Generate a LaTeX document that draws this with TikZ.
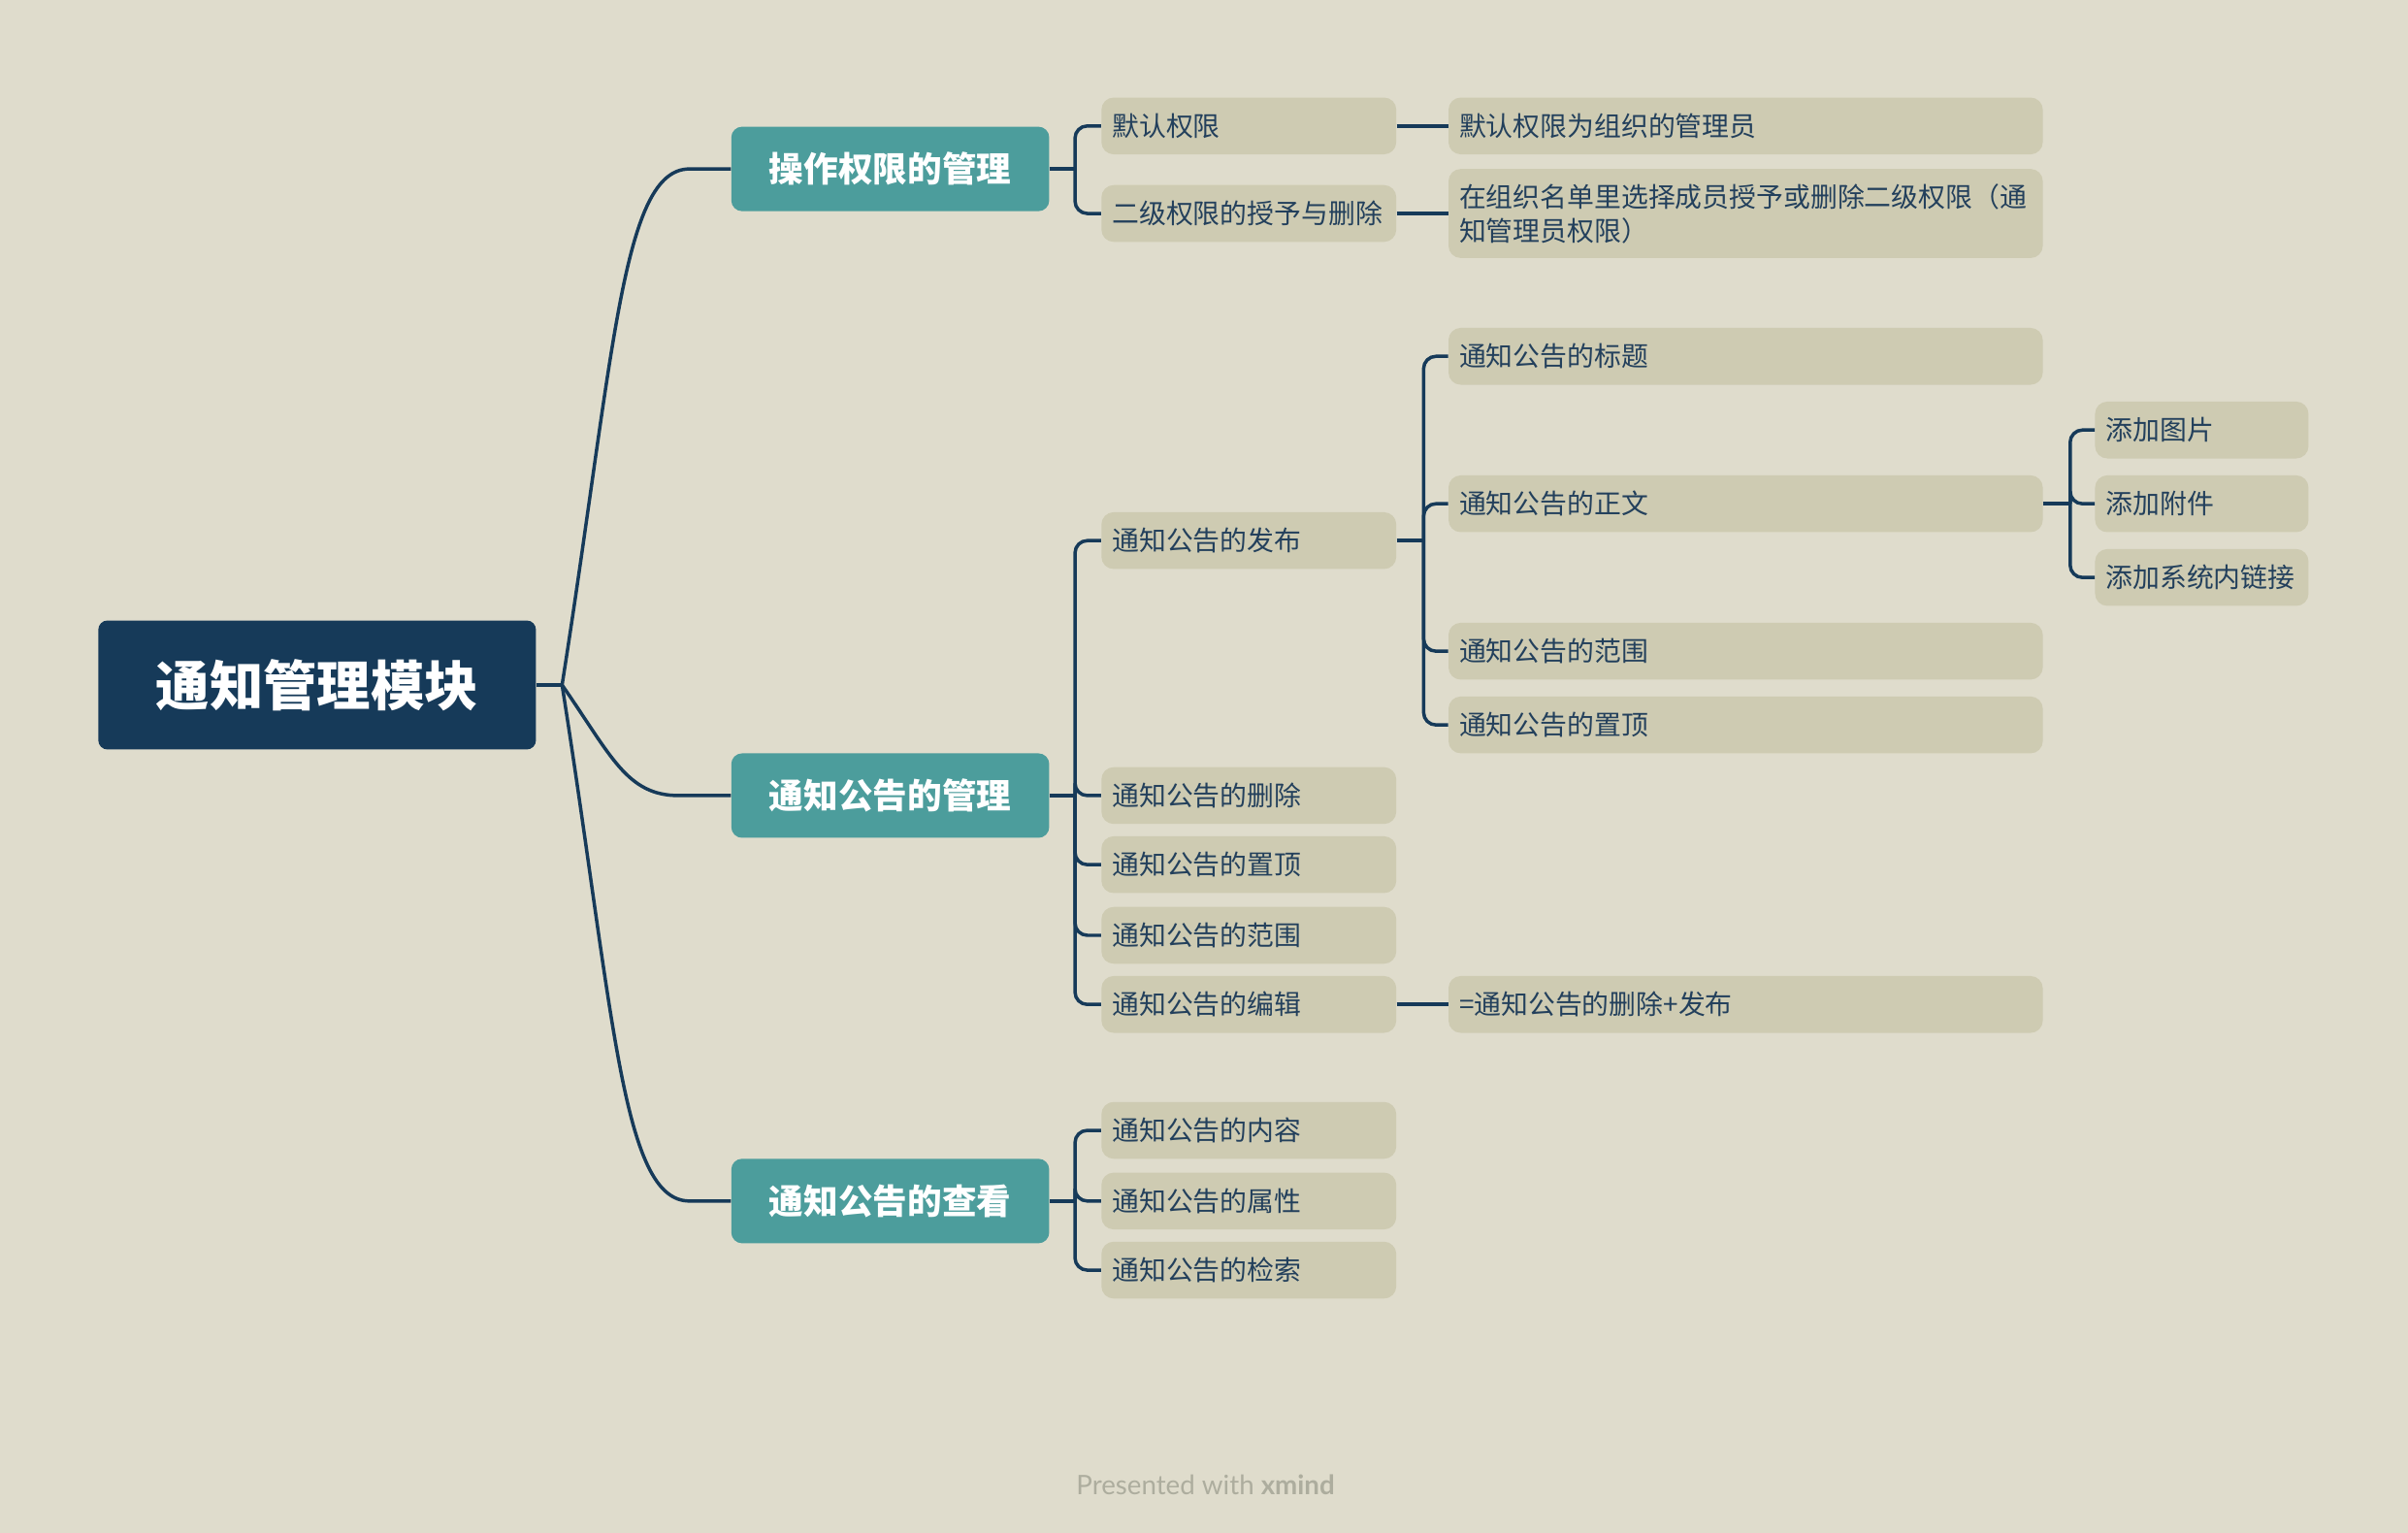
\documentclass[tikz,border=0pt]{standalone}
\usepackage{fontspec}
\setmainfont{Noto Sans CJK SC}
\newfontfamily\footfont{Lato}
\definecolor{bgc}{HTML}{DFDCCC}
\definecolor{boxc}{HTML}{CECBB2}
\definecolor{tealc}{HTML}{4C9D9C}
\definecolor{rootc}{HTML}{163A59}
\definecolor{linec}{HTML}{163A59}
\definecolor{textc}{HTML}{23405C}
\definecolor{footc}{HTML}{ADAD9E}
\begin{document}
\begin{tikzpicture}[x=1pt,y=-1pt,
  conn/.style={draw=linec, line width=2.2pt},
  bracket/.style={conn, rounded corners=8pt},
  rootbox/.style={rectangle, rounded corners=6pt, fill=rootc, text=white,
    font=\fontsize{35}{40}\selectfont\bfseries, minimum width=285pt, minimum height=84pt, inner sep=0pt},
  topic/.style={rectangle, rounded corners=7pt, fill=tealc, text=white,
    font=\fontsize{22.5}{26}\selectfont\bfseries, minimum width=207pt, minimum height=55pt, inner sep=0pt, anchor=west},
  sub/.style={rectangle, rounded corners=8pt, fill=boxc, text=textc,
    font=\fontsize{17.6}{22}\selectfont, minimum height=37pt, inner xsep=7pt, inner ysep=0pt, anchor=west, align=left},
  w2/.style={sub, text width=178pt},
  w3/.style={sub, text width=373pt},
  w4/.style={sub, text width=125pt},
]
\fill[bgc] (0,0) rectangle (1568,998);
\useasboundingbox (0,0) rectangle (1568,998);

% root
\node[rootbox] (root) at (206.5,446) {通知管理模块};

% level 1
\node[topic] (t1) at (476,110) {操作权限的管理};
\node[topic] (t2) at (476,518) {通知公告的管理};
\node[topic] (t3) at (476,782) {通知公告的查看};

% level 2
\node[w2] (a1) at (717,82) {默认权限};
\node[w2] (a2) at (717,139) {二级权限的授予与删除};
\node[w2] (b1) at (717,352) {通知公告的发布};
\node[w2] (b2) at (717,518) {通知公告的删除};
\node[w2] (b3) at (717,563) {通知公告的置顶};
\node[w2] (b4) at (717,609) {通知公告的范围};
\node[w2] (b5) at (717,654) {通知公告的编辑};
\node[w2] (c1) at (717,736) {通知公告的内容};
\node[w2] (c2) at (717,782) {通知公告的属性};
\node[w2] (c3) at (717,827) {通知公告的检索};

% level 3
\node[w3] (a11) at (943,82) {默认权限为组织的管理员};
\node[w3, minimum height=58pt] (a21) at (943,139) {在组织名单里选择成员授予或删除二级权限（通\\知管理员权限）};
\node[w3] (b11) at (943,232) {通知公告的标题};
\node[w3] (b12) at (943,328) {通知公告的正文};
\node[w3] (b13) at (943,424) {通知公告的范围};
\node[w3] (b14) at (943,472) {通知公告的置顶};
\node[w3] (b51) at (943,654) {=通知公告的删除+发布};

% level 4
\node[w4] (d1) at (1364,280) {添加图片};
\node[w4] (d2) at (1364,328) {添加附件};
\node[w4] (d3) at (1364,376) {添加系统内链接};

% root connectors
\coordinate (rj) at (366,446);
\draw[conn] (root.east) -- (rj);
\draw[conn] (rj) .. controls (400,230) and (405,110) .. (449,110) -- (t1.west);
\draw[conn] (rj) .. controls (398,492) and (408,518) .. (442,518) -- (t2.west);
\draw[conn] (rj) .. controls (400,662) and (405,782) .. (449,782) -- (t3.west);

% t1 bracket
\coordinate (j1) at (700,110);
\draw[conn] (t1.east) -- (j1);
\draw[bracket] (j1) |- (a1.west);
\draw[bracket] (j1) |- (a2.west);

% t2 bracket
\coordinate (j2) at (700,518);
\draw[conn] (t2.east) -- (j2);
\foreach \n in {b1,b2,b3,b4,b5} { \draw[bracket] (j2) |- (\n.west); }

% t3 bracket
\coordinate (j3) at (700,782);
\draw[conn] (t3.east) -- (j3);
\foreach \n in {c1,c2,c3} { \draw[bracket] (j3) |- (\n.west); }

% level 2 -> 3
\draw[conn] (a1.east) -- (a11.west);
\draw[conn] (a2.east) -- (a21.west);
\draw[conn] (b5.east) -- (b51.west);
\coordinate (jb) at (927,352);
\draw[conn] (b1.east) -- (jb);
\foreach \n in {b11,b12,b13,b14} { \draw[bracket] (jb) |- (\n.west); }

% level 3 -> 4
\coordinate (jd) at (1348,328);
\draw[conn] (b12.east) -- (jd);
\foreach \n in {d1,d2,d3} { \draw[bracket] (jd) |- (\n.west); }

% footer
\node[text=footc, font=\footfont\fontsize{17.5}{21}\selectfont] (foot) at (785,967) {Presented with \textbf{xmind}};
\end{tikzpicture}
\end{document}
